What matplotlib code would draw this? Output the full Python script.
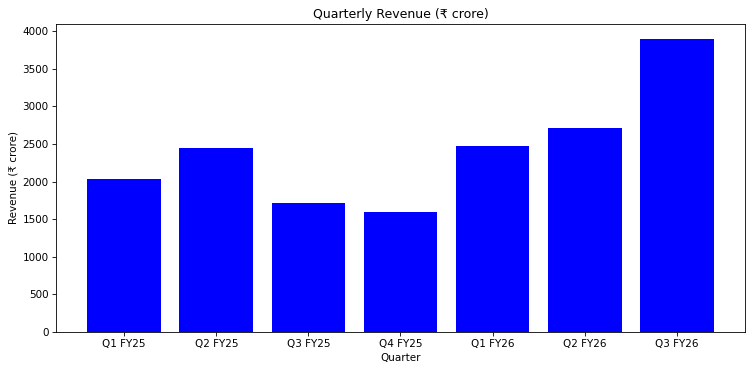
import matplotlib
matplotlib.use('Agg')
import matplotlib.pyplot as plt

quarters = ['Q1 FY25', 'Q2 FY25', 'Q3 FY25', 'Q4 FY25', 'Q1 FY26', 'Q2 FY26', 'Q3 FY26']
revenue = [2030, 2440, 1710, 1600, 2475, 2710, 3900]

fig = plt.figure(figsize=(752/75, 373/75), dpi=75)
ax = fig.add_axes([56/752, 41/373, 689/752, 308/373])
ax.bar(quarters, revenue, color='blue')
ax.set_title('Quarterly Revenue (₹ crore)', fontsize=12)
ax.set_xlabel('Quarter')
ax.set_ylabel('Revenue (₹ crore)')
fig.savefig('out.png', dpi=75)
